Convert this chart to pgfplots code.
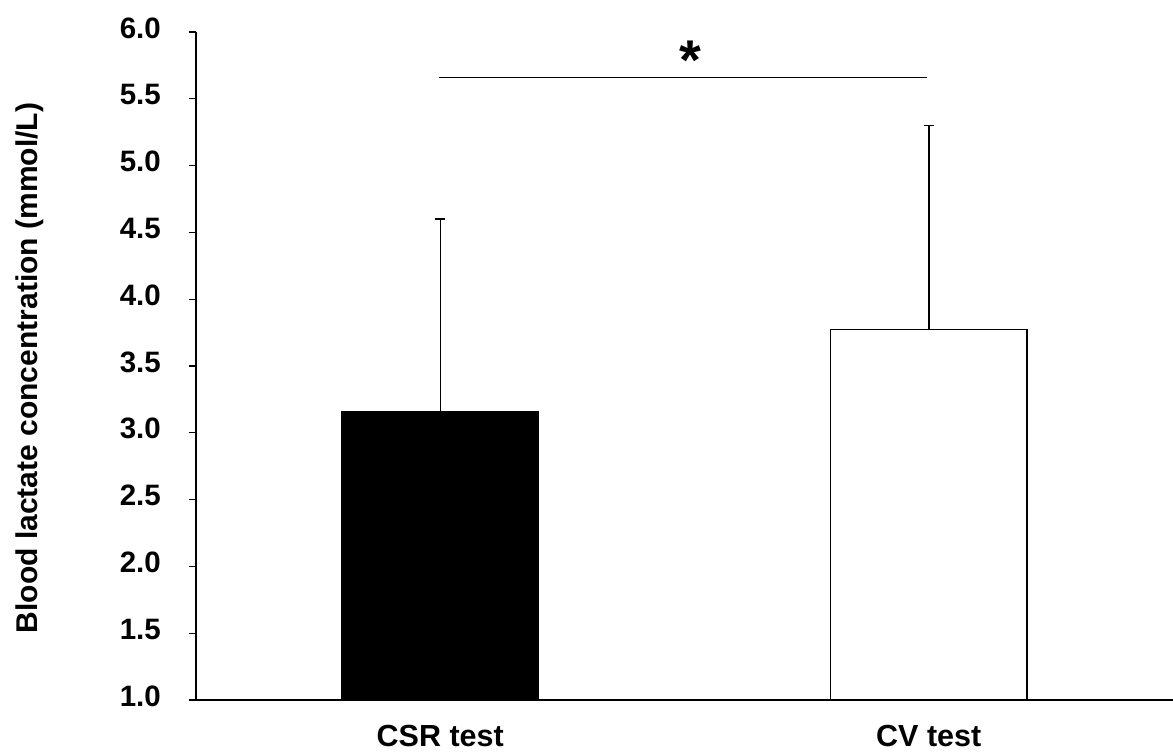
\documentclass[border=0pt]{standalone}
\usepackage{fontspec}
\setmainfont{Liberation Sans}
\usepackage{pgfplots}
\pgfplotsset{compat=1.18}
\begin{document}
\begin{tikzpicture}
\useasboundingbox (-196pt,-52pt) rectangle (977pt,700pt);
\begin{axis}[
  at={(0pt,0pt)}, anchor=south west,
  scale only axis, width=977pt, height=668pt,
  xmin=-0.5, xmax=1.5, ymin=1, ymax=6,
  axis x line*=bottom, axis y line*=left,
  axis line style={-, line width=1.3pt, black},
  xtick={0,1}, xticklabels={CSR test, CV test},
  x tick style={draw=none},
  ytick={1,1.5,...,6.01},
  y tick style={line width=1.3pt, black},
  tick align=outside, major tick length=7pt,
  /pgf/number format/.cd, fixed, fixed zerofill, precision=1, assume math mode=true,
  /pgfplots/.cd,
  yticklabel style={font=\fontsize{29.5}{31}\selectfont\bfseries, anchor=east, inner sep=0pt, xshift=-28pt},
  xticklabel style={font=\fontsize{30.5}{32}\selectfont\bfseries, anchor=base, inner sep=0pt, yshift=-39pt},
  typeset ticklabels with strut=false,
  ylabel={Blood lactate concentration (mmol/L)},
  every axis y label/.style={at={(axis description cs:-0.1627,0.497)}, rotate=90, anchor=base, font=\fontsize{30}{32}\selectfont\bfseries},
  ybar, bar width=0.402, bar shift=0pt,
  error bars/y dir=plus, error bars/y explicit,
  error bars/error bar style={line width=1.5pt, black},
  error bars/error mark options={rotate=90, mark size=5pt, line width=1.5pt, black},
  clip=false,
]
\addplot[fill=black, draw=black, line width=1.3pt] coordinates {(0,3.16) +- (0,1.44)};
\addplot[fill=white, draw=black, line width=1.5pt] coordinates {(1,3.775) +- (0,1.525)};
\draw[line width=1.6pt] (axis cs:-0.002,5.66) -- (axis cs:0.997,5.66);
\node[anchor=base, inner sep=0pt, font=\fontsize{56}{56}\selectfont\bfseries] at (axis cs:0.512,5.644) {*};
\end{axis}
\end{tikzpicture}
\end{document}
